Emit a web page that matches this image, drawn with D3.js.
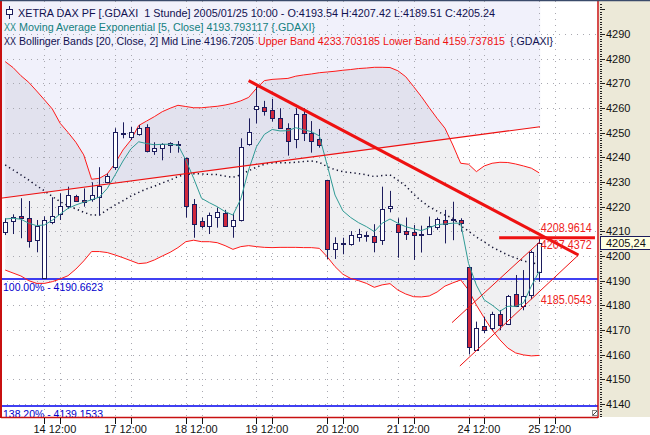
<!DOCTYPE html>
<html><head><meta charset="utf-8">
<script src="https://cdn.jsdelivr.net/npm/d3@7"></script>
<style>html,body{margin:0;padding:0;background:#fff;}svg{display:block;font-family:"Liberation Sans",Arial,sans-serif;}text{white-space:pre;}</style>
</head><body><svg id="c" width="650" height="435"></svg>
<script>
// ---------- DATA ----------
const opens  = [4209.6,4214.2,4216.1,4215.6,4206.4,4191.2,4213.9,4216.9,4220.4,4224.5,4222.7,4223.0,4223.8,4229.9,4236.0,4250.0,4248.4,4249.6,4252.3,4242.7,4243.7,4244.9,4245.6,4239.6,4221.0,4214.1,4212.3,4216.0,4217.6,4212.3,4214.5,4245.3,4259.5,4260.6,4259.1,4255.8,4251.8,4247.3,4257.4,4250.0,4247.3,4230.7,4202.7,4204.8,4205.0,4207.9,4208.4,4208.3,4206.4,4219.3,4213.1,4210.2,4209.9,4208.9,4208.8,4211.8,4214.5,4215.0,4214.6,4195.6,4161.8,4171.8,4170.7,4176.4,4172.3,4184.5,4179.7,4184.2,4193.54];
const highs  = [4215.3,4216.9,4223.4,4222.3,4214.6,4216.1,4223.8,4225.4,4228.1,4224.8,4227.4,4229.9,4236.0,4233.4,4251.8,4254.2,4252.4,4253.1,4253.4,4246.1,4245.7,4246.1,4246.6,4239.9,4223.1,4215.6,4217.6,4219.6,4218.7,4217.3,4247.7,4255.8,4268.7,4262.9,4263.7,4259.9,4253.8,4259.9,4259.9,4254.7,4251.5,4230.9,4207.6,4207.4,4210.1,4211.0,4209.9,4212.9,4228.1,4226.4,4215.3,4215.6,4212.6,4212.3,4216.0,4215.6,4218.7,4222.0,4215.3,4195.8,4173.4,4175.4,4177.4,4178.1,4184.2,4192.3,4194.3,4202.2,4207.42];
const lows   = [4208.5,4208.9,4207.2,4203.4,4201.5,4190.7,4212.9,4214.6,4219.1,4222.0,4220.0,4222.0,4216.4,4229.5,4234.9,4247.7,4247.0,4248.8,4242.0,4241.0,4238.8,4241.8,4241.9,4215.6,4207.4,4211.2,4208.9,4211.5,4211.9,4207.4,4214.0,4244.7,4253.7,4256.9,4254.5,4251.5,4240.7,4243.7,4246.6,4241.9,4243.9,4198.8,4198.8,4200.7,4204.2,4205.8,4205.8,4201.5,4204.5,4217.7,4199.3,4206.5,4198.4,4201.4,4208.5,4210.6,4205.1,4206.4,4209.9,4160.1,4161.5,4168.7,4170.0,4169.9,4172.0,4179.3,4178.0,4182.5,4189.51];
const closes = [4213.7,4215.7,4215.3,4206.1,4212.2,4214.5,4216.1,4220.1,4224.6,4222.5,4222.0,4224.6,4228.5,4232.3,4250.1,4249.4,4250.4,4252.0,4242.7,4243.7,4245.3,4245.7,4244.9,4220.4,4213.1,4212.3,4216.5,4217.9,4212.3,4214.6,4244.2,4250.4,4260.7,4258.8,4255.8,4251.8,4246.8,4257.4,4250.0,4246.8,4245.0,4202.7,4205.1,4205.1,4208.4,4208.8,4208.6,4205.6,4219.2,4220.1,4209.9,4209.1,4208.4,4208.8,4212.0,4214.9,4212.9,4214.5,4213.5,4163.0,4171.0,4169.9,4176.4,4172.0,4183.8,4179.6,4183.7,4201.8,4205.24];
const bbUpper = [4278.8,4276.4,4273.1,4270.4,4266.9,4263.3,4259.6,4253.8,4250.1,4246.1,4241.0,4231.1,4231.5,4233.3,4237.6,4243.0,4247.0,4252.9,4254.7,4256.5,4258.5,4259.9,4261.1,4260.6,4260.1,4260.1,4260.4,4260.7,4261.2,4261.9,4262.9,4264.3,4268.0,4271.1,4271.6,4271.8,4272.0,4272.9,4273.4,4273.8,4274.3,4274.6,4274.9,4275.3,4275.6,4276.0,4276.2,4276.5,4276.5,4276.4,4275.1,4272.7,4268.7,4264.6,4260.1,4255.8,4251.8,4245.0,4237.6,4237.2,4234.2,4236.5,4237.6,4238.0,4237.9,4237.3,4236.5,4235.6,4233.7];
const bbLower = [4194.3,4193.1,4191.9,4190.0,4188.9,4188.9,4189.6,4190.7,4192.0,4194.7,4198.0,4201.8,4201.8,4201.4,4200.4,4199.3,4198.1,4196.9,4197.2,4198.4,4200.0,4201.5,4203.4,4205.8,4206.4,4205.8,4205.8,4205.4,4204.2,4202.7,4203.8,4204.2,4203.8,4203.5,4203.4,4203.5,4203.5,4203.5,4203.4,4203.4,4203.1,4199.7,4195.7,4192.6,4190.9,4190.0,4188.9,4187.3,4188.3,4188.8,4186.2,4184.6,4183.5,4183.4,4183.8,4185.4,4187.8,4189.1,4190.3,4186.2,4180.1,4174.9,4170.0,4166.0,4162.7,4160.7,4159.9,4159.5,4159.7];
const bbMid   = [4236.9,4234.9,4232.9,4230.8,4228.5,4226.4,4224.1,4222.0,4220.4,4219.1,4217.7,4216.6,4216.6,4218.7,4220.7,4222.4,4224.3,4225.8,4227.2,4228.3,4229.6,4230.8,4232.2,4233.1,4233.3,4233.3,4233.1,4233.0,4232.4,4231.9,4232.9,4234.6,4236.0,4237.2,4237.8,4237.8,4237.8,4238.0,4238.3,4238.5,4238.0,4236.2,4235.0,4234.2,4233.8,4233.4,4232.9,4232.2,4232.6,4232.9,4230.8,4228.4,4225.1,4222.3,4219.9,4218.2,4216.6,4215.4,4212.2,4210.1,4207.7,4205.7,4203.6,4202.0,4200.4,4199.2,4198.0,4197.2,4196.7];
const ema5    = [4215.0,4215.3,4214.9,4213.3,4212.3,4212.6,4214.5,4217.0,4219.3,4220.7,4221.8,4222.8,4223.9,4227.4,4232.9,4238.5,4243.4,4246.3,4245.6,4245.1,4245.3,4245.3,4245.0,4238.9,4231.5,4223.4,4221.6,4220.0,4218.0,4216.6,4223.1,4234.9,4244.3,4249.3,4251.3,4250.7,4250.8,4252.0,4251.2,4250.4,4248.7,4236.9,4224.7,4218.3,4215.6,4213.5,4211.9,4209.9,4213.3,4215.0,4213.3,4211.9,4211.0,4210.3,4211.5,4212.7,4213.0,4213.3,4213.3,4197.0,4188.2,4182.2,4180.1,4177.6,4179.6,4179.6,4181.0,4187.8,4193.79];

const dayLabels   = ["14 12:00","17 12:00","18 12:00","19 12:00","20 12:00","21 12:00","24 12:00","25 12:00"];
const dayStartIdx = [5,14,23,32,41,50,59,68];
const noonIdx     = [7,16,25,34,43,52,61,70];
const yTickValues = [4140,4150,4160,4170,4180,4190,4200,4210,4220,4230,4240,4250,4260,4270,4280,4290];

const trendDown    = [[31,4271.1],[73,4200.4]];
const trendUp      = [[-0.6,4223.4],[68.1,4252.4]];
const channelUpper = [[56.9,4173.0],[68.1,4205.8]];
const channelLower = [[57.9,4155.4],[73,4200.4]];
const resistLine   = [[62.9,4207.44],[75.1,4207.44]];
const fibValues    = [4190.6623,4139.1533];
const fibLabels    = ["100.00% - 4190.6623","138.20% - 4139.1533"];
const lineLabelValues = [4208.9614,4207.4372,4185.0543];
const lastClose = 4205.24;

// ---------- LAYOUT ----------
const W=650,H=435, PL=1, PR=598, PT=1, PB=417;
const x = d3.scaleLinear().domain([0,68]).range([5.2,539.2]);
const y = d3.scaleLinear().domain([4140,4290]).range([404,34]);
const svg = d3.select("#c");
const NAVY="#1c1c5c", RED="#ee1111";

svg.append("rect").attr("width",W).attr("height",H).attr("fill","#fff");
// lavender region above rising trendline
const tu = v=>{const [a,b]=trendUp; return a[1]+(b[1]-a[1])*(v-a[0])/(b[0]-a[0]);};
const xEnd = x(68)+1;
const xi = px => x.invert(px);
svg.append("path").attr("fill","#f1f1fb")
  .attr("d",`M${PL},${PT}L${xEnd},${PT}L${xEnd},${y(tu(xi(xEnd)))}L${PL},${y(tu(xi(PL)))}Z`);

// band fill
const idx = d3.range(closes.length);
svg.append("path").datum(idx).attr("fill","rgba(0,0,40,0.06)")
  .attr("d",d3.area().x(i=>x(i)).y0(i=>y(bbLower[i])).y1(i=>y(bbUpper[i])));

// grid
const grid = svg.append("g").attr("stroke","#a8a8b0").attr("stroke-dasharray","1,5").attr("stroke-width",1);
yTickValues.forEach(v=>grid.append("line").attr("x1",PL).attr("x2",PR).attr("y1",Math.round(y(v))+0.5).attr("y2",Math.round(y(v))+0.5));
dayStartIdx.concat(noonIdx).forEach(i=>grid.append("line").attr("x1",Math.round(x(i))+0.5).attr("x2",Math.round(x(i))+0.5).attr("y1",PT).attr("y2",PB));

// fib lines
fibValues.forEach((v,k)=>{
  svg.append("line").attr("x1",PL).attr("x2",PR).attr("y1",y(v)).attr("y2",y(v)).attr("stroke","#0000ee").attr("stroke-width",1.5);
  svg.append("text").attr("x",3).attr("y",y(v)+11.5).attr("fill","#0000cc").attr("font-size",11.5)
    .attr("textLength",100).attr("lengthAdjust","spacingAndGlyphs").text(fibLabels[k]);
});

// bands
const ln = arr => d3.line().x(i=>x(i)).y(i=>y(arr[i]));
svg.append("path").datum(idx).attr("fill","none").attr("stroke","#ff1a1a").attr("stroke-width",1).attr("d",ln(bbUpper));
svg.append("path").datum(idx).attr("fill","none").attr("stroke","#ff1a1a").attr("stroke-width",1).attr("d",ln(bbLower));
svg.append("path").datum(idx).attr("fill","none").attr("stroke","#101030").attr("stroke-width",1.5).attr("stroke-dasharray","1.3,3.2").attr("d",ln(bbMid));

// candles
const cg = svg.append("g");
idx.forEach(i=>{
  const cx = Math.round(x(i))+0.5;
  cg.append("line").attr("x1",cx).attr("x2",cx).attr("y1",y(highs[i])).attr("y2",y(lows[i])).attr("stroke",NAVY).attr("stroke-width",1);
  const top=Math.round(y(Math.max(opens[i],closes[i]))), bot=Math.round(y(Math.min(opens[i],closes[i])));
  cg.append("rect").attr("x",cx-2).attr("y",top+0.5).attr("width",4).attr("height",Math.max(1,bot-top))
    .attr("fill",closes[i]>=opens[i]?"#ffffff":"#d0283c").attr("stroke",NAVY).attr("stroke-width",1);
});

// EMA
svg.append("path").datum(idx).attr("fill","none").attr("stroke","#2f9b95").attr("stroke-width",1).attr("d",ln(ema5));

// trend lines
const seg = (p,w)=>svg.append("line").attr("x1",x(p[0][0])).attr("y1",y(p[0][1])).attr("x2",x(p[1][0])).attr("y2",y(p[1][1])).attr("stroke",RED).attr("stroke-width",w);
seg(trendUp,1.2); seg(channelUpper,1); seg(channelLower,1); seg(trendDown,3); seg(resistLine,3);

// line value labels
lineLabelValues.forEach((v,k)=>{
  svg.append("text").attr("x",x(68)+1.5).attr("y",k===0?y(v)-2:y(v)+11.5).attr("fill","#ee2222")
    .attr("font-size",12).attr("textLength",51).attr("lengthAdjust","spacingAndGlyphs").text(v.toFixed(4));
});

// frame
svg.append("rect").attr("x",599).attr("y",0).attr("width",51).attr("height",PB).attr("fill","#ece9d8");
svg.append("line").attr("x1",PR).attr("x2",PR).attr("y1",0).attr("y2",PB+1).attr("stroke","#c81010").attr("stroke-width",1.5);
svg.append("line").attr("x1",PL).attr("x2",PL).attr("y1",0).attr("y2",PB+1).attr("stroke","#c81010").attr("stroke-width",2);
svg.append("line").attr("x1",PL).attr("x2",PR).attr("y1",PB+0.5).attr("y2",PB+0.5).attr("stroke","#c81010").attr("stroke-width",1.5);
svg.append("line").attr("x1",0).attr("x2",W).attr("y1",0.5).attr("y2",0.5).attr("stroke","#3a4a6a").attr("stroke-width",1.5);
// resize glyph
svg.append("rect").attr("x",592.5).attr("y",410.5).attr("width",5).attr("height",5).attr("fill","#fff").attr("stroke","#888");
svg.append("line").attr("x1",593).attr("y1",415).attr("x2",597).attr("y2",411).attr("stroke","#444");

// right axis
const ax = svg.append("g");
d3.range(4134,4303).forEach(v=>{
  const yy=Math.round(y(v))+0.5; if(yy<3||yy>PB) return;
  ax.append("line").attr("x1",600).attr("x2",v%10===0?605:602).attr("y1",yy).attr("y2",yy).attr("stroke","#222");
});
yTickValues.forEach(v=>ax.append("text").attr("x",606).attr("y",y(v)+4).attr("font-size",11).attr("fill","#111").text(v));
// last price box
svg.append("rect").attr("x",600.5).attr("y",Math.round(y(lastClose))-6.5).attr("width",52).attr("height",13).attr("fill","#ffffe1").attr("stroke","#1c1c5c");
svg.append("text").attr("x",606).attr("y",y(lastClose)+4).attr("font-size",11).attr("fill","#111").text(lastClose.toFixed(2).replace(".",","));

// bottom axis
dayStartIdx.forEach(i=>svg.append("line").attr("x1",Math.round(x(i))+0.5).attr("x2",Math.round(x(i))+0.5).attr("y1",PB+1).attr("y2",PB+7).attr("stroke","#111"));
noonIdx.forEach(i=>svg.append("line").attr("x1",Math.round(x(i))+0.5).attr("x2",Math.round(x(i))+0.5).attr("y1",PB+1).attr("y2",PB+7).attr("stroke","#111"));
dayStartIdx.forEach((i,k)=>svg.append("text").attr("x",x(i)-11).attr("y",433).attr("font-size",11).attr("fill","#111").text(dayLabels[k]));

// header legend
const hdr = svg.append("g").attr("font-size",11);
hdr.append("line").attr("x1",9.5).attr("x2",9.5).attr("y1",6).attr("y2",19).attr("stroke",NAVY);
hdr.append("rect").attr("x",6.5).attr("y",9.5).attr("width",6).attr("height",5).attr("fill","#fff").attr("stroke",NAVY);
hdr.append("text").attr("x",18).attr("y",17).attr("fill","#101050").attr("textLength",477).attr("lengthAdjust","spacingAndGlyphs")
  .text("XETRA DAX PF [.GDAXI  1 Stunde] 2005/01/25 10:00 - O:4193.54 H:4207.42 L:4189.51 C:4205.24");
hdr.append("text").attr("x",4).attr("y",31).attr("fill","#1a8a84").attr("textLength",12).attr("lengthAdjust","spacingAndGlyphs").text("XX");
hdr.append("text").attr("x",19).attr("y",31).attr("fill","#138080").attr("textLength",296).attr("lengthAdjust","spacingAndGlyphs")
  .text("Moving Average Exponential [5, Close] 4193.793117 {.GDAXI}");
hdr.append("text").attr("x",4).attr("y",45).attr("fill","#101050").attr("textLength",12).attr("lengthAdjust","spacingAndGlyphs").text("XX");
hdr.append("text").attr("x",19).attr("y",45).attr("fill","#101050").attr("textLength",235).attr("lengthAdjust","spacingAndGlyphs")
  .text("Bollinger Bands [20, Close, 2] Mid Line 4196.7205");
hdr.append("text").attr("x",258).attr("y",45).attr("fill","#ee1111").attr("textLength",247).attr("lengthAdjust","spacingAndGlyphs")
  .text("Upper Band 4233.703185 Lower Band 4159.737815");
hdr.append("text").attr("x",510).attr("y",45).attr("fill","#101050").attr("textLength",43).attr("lengthAdjust","spacingAndGlyphs")
  .text("{.GDAXI}");
</script></body></html>
